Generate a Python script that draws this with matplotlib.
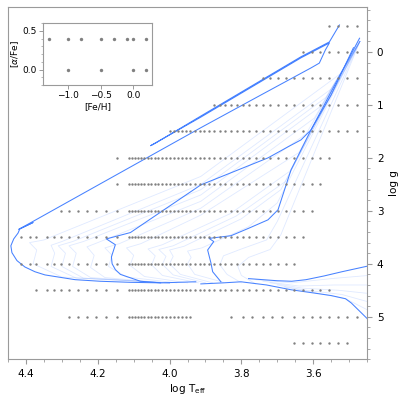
import matplotlib
matplotlib.use("Agg")
import matplotlib.pyplot as plt
from matplotlib.ticker import MultipleLocator
import numpy as np

# spectral grid: Teff values of the dense grid and of the hot extension
teff_grid = [3000, 3200, 3400, 3600, 3800, 4000, 4250, 4500, 4750, 5000, 5250, 5500,
             5750, 6000, 6250, 6500, 6750, 7000, 7250, 7500, 7750, 8000, 8250, 8500,
             8750, 9000, 9250, 9500, 9750, 10000, 10250, 10500, 10750, 11000, 11250,
             11500, 11750, 12000, 12250, 12500, 12750, 13000]
teff_hot = [14000, 15000, 16000, 17000, 18000, 19000, 20000, 21000, 22000, 23500,
            24500, 26000]

# rows: log g, dense Teff range, number of hot points
row_logg = [-0.5, 0.0, 0.5, 1.0, 1.5, 2.0, 2.5, 3.0, 3.5, 4.0, 4.5, 5.0, 5.5]
row_tmin = [3000, 3000, 3000, 3000, 3000, 3600, 3800, 4000, 4250, 4500, 3600, 8750, 3200]
row_tmax = [3600, 4250, 5500, 7500, 10000, 13000, 13000, 13000, 13000, 13000, 13000, 13000, 4500]
row_nhot = [0, 0, 0, 0, 0, 1, 1, 7, 12, 12, 10, 6, 0]
# coarse cool points of the log g = 5 row
row5_cool = [3000, 3200, 3400, 3600, 3800, 4000, 4250, 4500, 4850, 5200, 5500, 5900,
             6250, 6750]

# inset: abundance grid
feh_alpha04 = [-1.3, -1.0, -0.8, -0.5, -0.3, -0.1, 0.0, 0.2]
feh_alpha00 = [-1.0, -0.5, 0.0, 0.2]

# isochrones (log Teff, log g)
bold_isochrones = [
    # youngest: ZAMS, turnoff hook, Hertzsprung gap, RSG, blue loop
    ([3.927, 4.025, 4.109, 4.193, 4.263, 4.310, 4.347, 4.375, 4.403, 4.425, 4.439,
      4.442, 4.434, 4.422, 4.417, 4.380, 4.420, 4.193, 3.913, 3.745, 3.606, 3.583,
      3.566, 3.555, 3.634, 3.913, 4.053, 4.039, 3.913, 3.634, 3.555, 3.527],
     [4.34, 4.36, 4.35, 4.33, 4.30, 4.25, 4.21, 4.15, 4.06, 3.94, 3.79,
      3.66, 3.53, 3.42, 3.34, 3.22, 3.35, 2.49, 1.43, 0.81, 0.30, 0.21,
      -0.04, -0.17, 0.11, 1.23, 1.77, 1.72, 1.21, 0.09, -0.19, -0.51]),
    ([4.025, 4.081, 4.137, 4.151, 4.160, 4.162, 4.151, 4.176, 4.137, 4.109, 3.913,
      3.726, 3.670, 3.634, 3.606, 3.550, 3.488],
     [4.36, 4.33, 4.20, 4.11, 4.00, 3.87, 3.64, 3.53, 3.46, 3.41, 2.51,
      2.00, 1.79, 1.66, 1.47, 0.81, -0.08]),
    ([3.857, 3.880, 3.885, 3.894, 3.877, 3.890, 3.829, 3.780, 3.726, 3.698, 3.662,
      3.606, 3.550, 3.488, 3.471],
     [4.34, 4.15, 3.98, 3.74, 3.58, 3.52, 3.47, 3.33, 3.17, 2.98, 2.23,
      1.47, 0.75, -0.04, -0.26]),
    # lower main sequence / pre-main sequence
    ([3.913, 3.85, 3.801, 3.73, 3.662, 3.600, 3.550, 3.510, 3.494, 3.470, 3.446],
     [4.38, 4.36, 4.34, 4.40, 4.49, 4.55, 4.60, 4.66, 4.74, 4.90, 5.06]),
    ([3.78, 3.74, 3.70, 3.66, 3.62, 3.57, 3.52, 3.446],
     [4.28, 4.30, 4.32, 4.33, 4.30, 4.23, 4.15, 4.04]),
]

faint_isochrones = [
    ([4.00, 4.30, 4.38, 4.37, 4.39, 4.35, 3.913, 3.522, 3.47],
     [4.36, 4.25, 4.00, 3.74, 3.60, 3.55, 2.35, 0.40, -0.20]),
    ([4.00, 4.26, 4.33, 4.32, 4.33, 4.30, 3.913, 3.550, 3.47],
     [4.36, 4.27, 4.05, 3.80, 3.65, 3.58, 2.50, 0.70, -0.20]),
    ([4.00, 4.24, 4.30, 4.29, 4.31, 4.27, 3.913, 3.565, 3.47],
     [4.36, 4.27, 4.05, 3.80, 3.66, 3.58, 2.60, 0.86, -0.20]),
    ([4.00, 4.22, 4.27, 4.26, 4.28, 4.24, 3.913, 3.578, 3.47],
     [4.37, 4.26, 4.05, 3.80, 3.66, 3.58, 2.70, 1.02, -0.20]),
    ([4.00, 4.18, 4.22, 4.21, 4.23, 4.20, 3.913, 3.597, 3.47],
     [4.37, 4.26, 4.07, 3.84, 3.68, 3.60, 2.82, 1.25, -0.20]),
    ([3.98, 4.12, 4.17, 4.16, 4.18, 4.14, 3.913, 3.620, 3.47],
     [4.36, 4.25, 4.05, 3.84, 3.70, 3.62, 2.95, 1.55, -0.20]),
    ([3.95, 4.07, 4.11, 4.10, 4.12, 4.08, 3.913, 3.640, 3.47],
     [4.36, 4.24, 4.03, 3.84, 3.70, 3.62, 3.08, 1.90, -0.20]),
    ([3.92, 4.02, 4.05, 4.04, 4.06, 4.02, 3.830, 3.665, 3.47],
     [4.36, 4.22, 4.02, 3.85, 3.72, 3.64, 3.05, 2.25, -0.20]),
    ([3.90, 3.99, 4.02, 4.01, 4.03, 3.99, 3.815, 3.678, 3.47],
     [4.36, 4.21, 4.01, 3.86, 3.73, 3.66, 3.10, 2.45, -0.20]),
    ([3.88, 3.97, 4.00, 3.99, 4.00, 3.96, 3.800, 3.690, 3.47],
     [4.36, 4.20, 4.00, 3.86, 3.74, 3.67, 3.15, 2.60, -0.20]),
    ([3.85, 3.93, 3.95, 3.94, 3.95, 3.91, 3.780, 3.700, 3.47],
     [4.35, 4.20, 4.00, 3.88, 3.76, 3.70, 3.30, 2.85, -0.20]),
    ([3.80, 3.84, 3.86, 3.85, 3.80, 3.73, 3.700, 3.47],
     [4.36, 4.20, 4.02, 3.85, 3.72, 3.55, 3.20, -0.20]),
    ([3.76, 3.80, 3.81, 3.78, 3.72, 3.69, 3.47],
     [4.38, 4.22, 4.05, 3.88, 3.73, 3.45, -0.20]),
    # pre-main-sequence fan towards the cool edge
    ([3.76, 3.66, 3.55, 3.446], [4.30, 4.36, 4.28, 4.22]),
    ([3.74, 3.64, 3.54, 3.446], [4.33, 4.42, 4.40, 4.40]),
    ([3.72, 3.63, 3.53, 3.446], [4.36, 4.46, 4.50, 4.56]),
    ([3.70, 3.62, 3.52, 3.446], [4.40, 4.50, 4.58, 4.72]),
    ([3.68, 3.60, 3.51, 3.446], [4.44, 4.54, 4.66, 4.88]),
]

line_color = "#3d7bff"
dot_color = "#808080"
spine_color = "#9a9a9a"

fig = plt.figure(figsize=(3.99, 3.99), dpi=100)
ax = fig.add_axes([0.02, 0.10, 0.90, 0.8825])

for lt, lg in faint_isochrones:
    ax.plot(lt, lg, color=line_color, lw=0.6, alpha=0.16)
for lt, lg in bold_isochrones:
    ax.plot(lt, lg, color=line_color, lw=0.75, alpha=0.95)

# grid points
for lg, t0, t1, nh in zip(row_logg, row_tmin, row_tmax, row_nhot):
    teffs = [t for t in teff_grid if t0 <= t <= t1] + teff_hot[:nh]
    if lg == 5.0:
        teffs = teffs + row5_cool
    ax.scatter(np.log10(teffs), [lg] * len(teffs), s=3, color=dot_color,
               linewidths=0, zorder=3)

ax.set_xlim(4.45, 3.45)
ax.set_ylim(5.8, -0.85)
ax.xaxis.set_major_locator(MultipleLocator(0.2))
ax.xaxis.set_minor_locator(MultipleLocator(0.05))
ax.yaxis.set_major_locator(MultipleLocator(1))
ax.yaxis.set_minor_locator(MultipleLocator(0.2))
ax.yaxis.tick_right()
ax.yaxis.set_label_position("right")
ax.set_xlabel(r"log T$_{\rm eff}$", fontsize=7.5, labelpad=2)
ax.set_ylabel("log g", fontsize=7.5, labelpad=4)
ax.tick_params(which="both", colors=spine_color, labelcolor="black", labelsize=7.5)
ax.tick_params(which="major", length=3.5, width=0.8)
ax.tick_params(which="minor", length=2, width=0.6)
for s in ax.spines.values():
    s.set_color(spine_color)

# inset
axi = fig.add_axes([0.108, 0.787, 0.273, 0.155])
axi.scatter(feh_alpha04, [0.4] * len(feh_alpha04), s=6, color=dot_color, linewidths=0)
axi.scatter(feh_alpha00, [0.0] * len(feh_alpha00), s=6, color=dot_color, linewidths=0)
axi.set_xlim(-1.385, 0.29)
axi.set_ylim(-0.2, 0.6)
axi.xaxis.set_major_locator(MultipleLocator(0.5))
axi.yaxis.set_major_locator(MultipleLocator(0.5))
axi.yaxis.set_minor_locator(MultipleLocator(0.1))
axi.set_xlabel("[Fe/H]", fontsize=6.5, labelpad=1)
axi.set_ylabel(r"[$\alpha$/Fe]", fontsize=6.5, labelpad=1)
axi.tick_params(which="both", colors=spine_color, labelcolor="black", labelsize=6.5)
axi.tick_params(which="major", length=3, width=0.7, pad=1.5)
axi.tick_params(which="minor", length=1.5, width=0.5)
for s in axi.spines.values():
    s.set_color(spine_color)

fig.savefig("out.png", dpi=100)
